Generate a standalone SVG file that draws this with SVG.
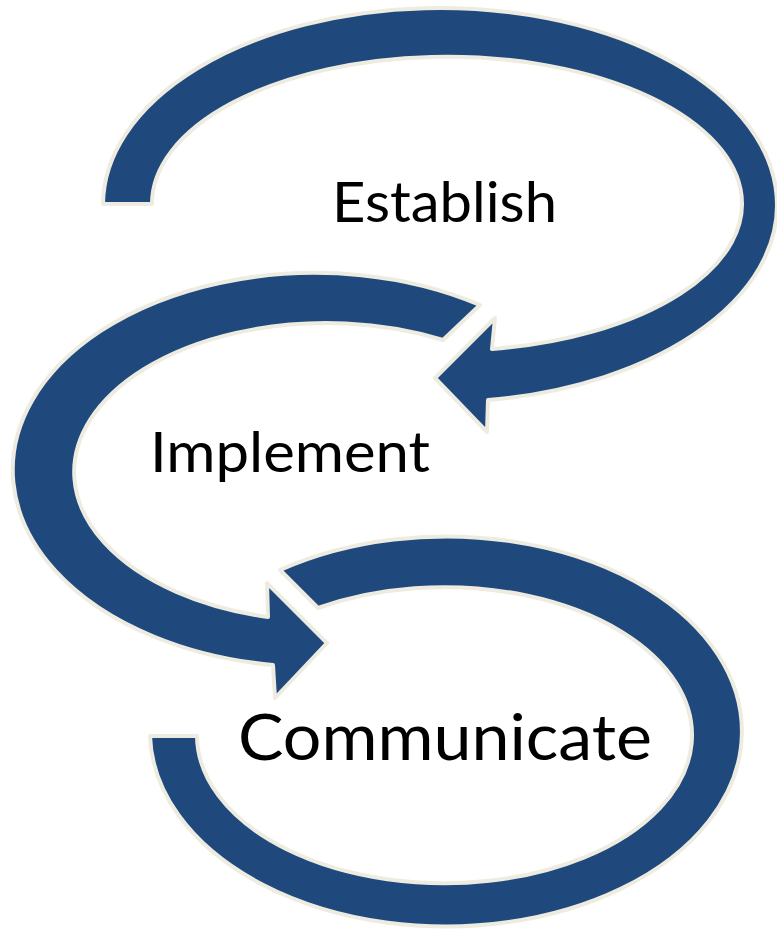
<svg xmlns="http://www.w3.org/2000/svg" width="777" height="933" viewBox="0 0 777 933">
<style>
.arrow{fill:#1F497D;stroke:#EEECE1;stroke-width:4;stroke-linejoin:round}
.lbl{font-family:Lato,"Open Sans","Liberation Sans",sans-serif;fill:#000}
</style>
<rect width="777" height="933" fill="#fff"/>
<g id="connectors">
<path id="arrow-establish" class="arrow" d="M 103,204 A 337 197 0 1 1 488,400 L 487,432 L 435,378 L 495,318 L 492,349 A 295 147 0 1 0 152,204 Z"/>
<path id="arrow-implement" class="arrow" d="M 480,305 A 302 197 0 1 0 273,665 L 275,698 L 327,643 L 267,583 L 268,617 A 252 149 0 1 1 443,340 Z"/>
<path id="arrow-communicate" class="arrow" d="M 150,736 A 296 195 0 1 0 280,570 L 318,608 A 247.5 148 0 1 1 197,736 Z"/>
</g>
<g id="node-establish"><text class="lbl" x="332" y="222" font-size="57" textLength="225" lengthAdjust="spacingAndGlyphs">Establish</text></g>
<g id="node-implement"><text class="lbl" x="150" y="472" font-size="57" textLength="280" lengthAdjust="spacingAndGlyphs">Implement</text></g>
<g id="node-communicate"><text class="lbl" x="238" y="760" font-size="64" textLength="414" lengthAdjust="spacingAndGlyphs">Communicate</text></g>
</svg>
